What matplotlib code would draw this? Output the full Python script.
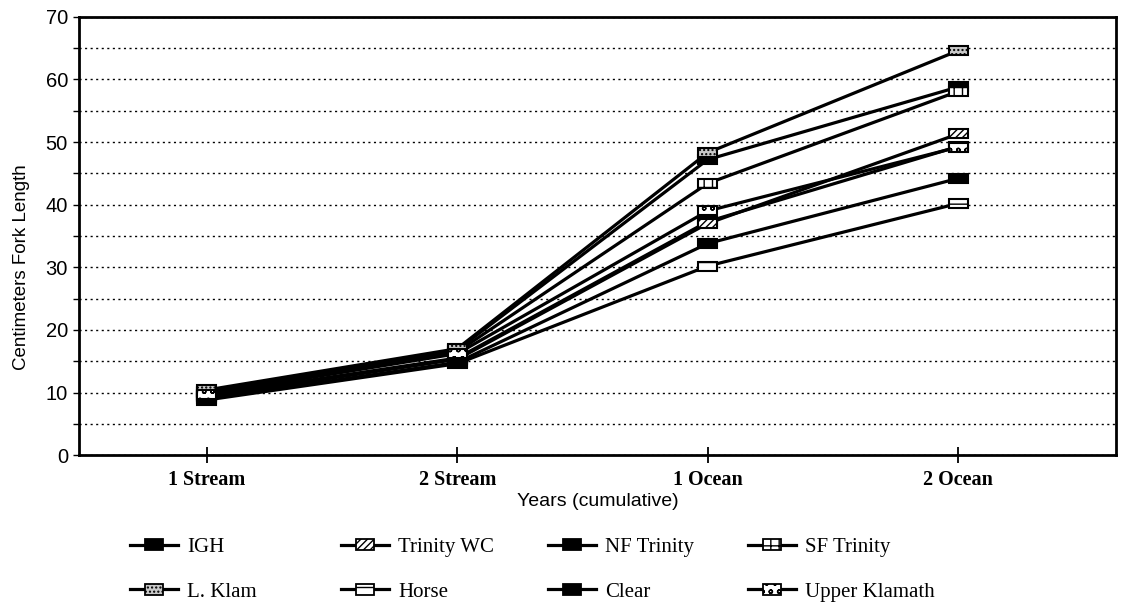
"""Mean fork length by life stage for Klamath-Trinity stocks, redrawn as a line chart."""
import matplotlib
matplotlib.use("Agg")
import matplotlib.pyplot as plt
from matplotlib.patches import Rectangle
from matplotlib.lines import Line2D
from matplotlib.legend_handler import HandlerBase
from matplotlib.transforms import ScaledTranslation

stages = ["1 Stream", "2 Stream", "1 Ocean", "2 Ocean"]
series_names = ["IGH", "Trinity WC", "NF Trinity", "SF Trinity",
                "L. Klam", "Horse", "Clear", "Upper Klamath"]

igh = [9.5, 15.5, 37.3, 49.3]
trinity_wc = [9.3, 15.3, 37.0, 51.3]
nf_trinity = [10.2, 16.8, 47.2, 58.8]
sf_trinity = [10.0, 16.5, 43.4, 58.1]
l_klam = [10.4, 17.0, 48.3, 64.6]
horse = [8.8, 14.6, 30.2, 40.2]
clear = [9.0, 14.8, 33.8, 44.2]
upper_klamath = [9.7, 16.2, 39.0, 49.2]

series_values = [igh, trinity_wc, nf_trinity, sf_trinity,
                 l_klam, horse, clear, upper_klamath]

# marker fill styles (facecolor, hatch)
box_styles = [
    ("black", None),
    ("white", "/////"),
    ("black", None),
    ("white", "++"),
    ("#c8c8c8", "...."),
    ("white", "--"),
    ("black", None),
    ("white", "oo"),
]

SANS = "Liberation Sans"
SERIF = "Liberation Serif"
plt.rcParams["hatch.linewidth"] = 1.0

fig = plt.figure(figsize=(11.21, 6.02), dpi=100)
ax = fig.add_axes([0.0705, 0.244, 0.925, 0.728])

xs = list(range(len(stages)))
BOX_W, BOX_H = 0.19, 0.09  # inches

for vals, (fc, hatch) in zip(series_values, box_styles):
    ax.plot(xs, vals, color="black", lw=2.3, zorder=3, solid_capstyle="butt")
    for x, y in zip(xs, vals):
        trans = fig.dpi_scale_trans + ScaledTranslation(x, y, ax.transData)
        rect = Rectangle((-BOX_W / 2, -BOX_H / 2), BOX_W, BOX_H, transform=trans,
                         facecolor=fc, edgecolor="black", hatch=hatch, lw=1.5,
                         zorder=4, clip_on=False)
        ax.add_artist(rect)

ax.set_xlim(-0.51, 3.63)
ax.set_ylim(0, 70)
ax.set_yticks(range(0, 71, 10))
ax.set_yticks(range(5, 70, 10), minor=True)
ax.set_xticks(xs)
ax.set_xticklabels(stages, fontfamily=SERIF, fontsize=14.5, fontweight="bold")
for lab in ax.get_yticklabels():
    lab.set_fontfamily(SANS)
    lab.set_fontsize(14.5)

ax.grid(axis="y", which="both", color="black", linestyle=(0, (1.5, 2.5)), lw=1.0)
ax.set_axisbelow(True)
ax.tick_params(axis="y", which="both", direction="out", length=4, width=1, pad=4)
ax.tick_params(axis="x", direction="inout", length=12, width=1.3, pad=5)
for sp in ax.spines.values():
    sp.set_linewidth(2)

ax.set_ylabel("Centimeters Fork Length", fontfamily=SANS, fontsize=13.5, labelpad=6)
ax.yaxis.set_label_coords(-0.047, 0.43)
ax.set_xlabel("Years (cumulative)", fontfamily=SANS, fontsize=14, labelpad=2)


class HandlerLineBox(HandlerBase):
    def __init__(self, fc, hatch):
        super().__init__()
        self.fc = fc
        self.hatch = hatch

    def create_artists(self, legend, orig_handle, xdescent, ydescent,
                       width, height, fontsize, trans):
        yc = height / 2 - ydescent
        line = Line2D([-xdescent, width - xdescent], [yc, yc], color="black",
                      lw=2.3, transform=trans)
        bw, bh = 13, 8
        xc = (width - 2 * xdescent) / 2
        box = Rectangle((xc - bw / 2, yc - bh / 2), bw, bh, facecolor=self.fc,
                        edgecolor="black", hatch=self.hatch, lw=1.3,
                        transform=trans)
        return [line, box]


col_x = [0.116, 0.304, 0.489, 0.667]
for c in range(4):
    handles, labels, hmap = [], [], {}
    for idx in (c, c + 4):
        h = Line2D([], [])
        handles.append(h)
        labels.append(series_names[idx])
        hmap[h] = HandlerLineBox(*box_styles[idx])
    fig.legend(handles, labels, handler_map=hmap, loc="upper left",
               bbox_to_anchor=(col_x[c], 0.107), frameon=False,
               prop={"family": SERIF, "size": 15}, handlelength=2.3,
               handletextpad=0.45, labelspacing=1.2, borderaxespad=0,
               borderpad=0)

fig.savefig("out.png", dpi=100)
